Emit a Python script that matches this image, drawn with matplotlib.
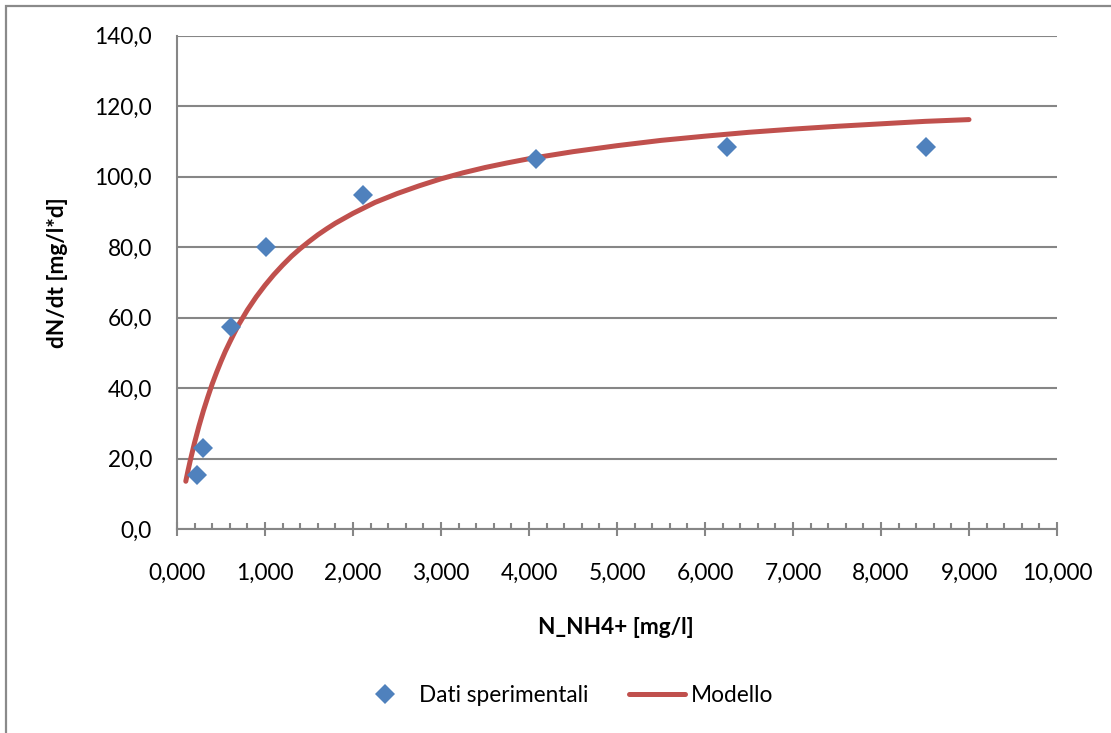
import matplotlib
matplotlib.use("Agg")
import matplotlib.pyplot as plt
from matplotlib.ticker import FuncFormatter, MultipleLocator
from matplotlib.lines import Line2D
from matplotlib.patches import Rectangle

# Experimental measurements
exp_n = [0.226, 0.30, 0.61, 1.01, 2.11, 4.08, 6.25, 8.51]
exp_rate = [15.5, 23.1, 57.5, 80.0, 94.7, 105.0, 108.3, 108.5]

# Model curve samples
model_n = [0.1, 0.125, 0.15, 0.175, 0.2, 0.25, 0.3, 0.35, 0.4, 0.45, 0.5, 0.55,
           0.6, 0.65, 0.7, 0.75, 0.8, 0.9, 1.0, 1.1, 1.2, 1.3, 1.4, 1.5, 1.6,
           1.7, 1.8, 2.0, 2.25, 2.5, 2.75, 3.0, 3.25, 3.5, 3.75, 4.0, 4.5, 5.0,
           5.5, 6.0, 6.5, 7.0, 7.5, 8.0, 8.5, 9.0]
model_rate = [13.6, 16.6, 19.4, 22.0, 24.6, 29.3, 33.6, 37.5, 41.2, 44.5, 47.6,
              50.5, 53.1, 55.6, 58.0, 60.1, 62.2, 65.9, 69.2, 72.2, 74.9, 77.4,
              79.6, 81.6, 83.5, 85.2, 86.8, 89.6, 92.7, 95.2, 97.4, 99.4, 101.1,
              102.6, 103.9, 105.1, 107.1, 108.8, 110.3, 111.5, 112.6, 113.5,
              114.3, 115.0, 115.7, 116.2]

series_labels = ["Dati sperimentali", "Modello"]
x_label = "N_NH4+ [mg/l]"
y_label = "dN/dt [mg/l*d]"

BLUE = "#4F81BD"
RED = "#C0504D"
GRAY = "#868686"
FONT = "Lato"
FS = 16.3

W, H = 1111, 733
fig = plt.figure(figsize=(W / 100, H / 100), dpi=100)
fig.patch.set_facecolor("white")

# outer chart frame
fig.patches.append(Rectangle((6 / W, -0.05), 1.2, 1.05 - 6 / H, transform=fig.transFigure,
                             fill=False, edgecolor="#8a8a8a", linewidth=1.6))

ax = fig.add_axes([177 / W, 1 - 529.2 / H, 880 / W, (529.2 - 35.7) / H])

ax.plot(model_n, model_rate, color=RED, linewidth=3.6, solid_capstyle="round",
        solid_joinstyle="round", zorder=3, label=series_labels[1])
ax.plot(exp_n, exp_rate, linestyle="none", marker="D", markersize=10.2,
        color=BLUE, markeredgewidth=0, zorder=4, label=series_labels[0])

ax.set_xlim(0, 10)
ax.set_ylim(0, 140)
ax.xaxis.set_major_locator(MultipleLocator(1))
ax.xaxis.set_minor_locator(MultipleLocator(0.2))
ax.yaxis.set_major_locator(MultipleLocator(20))
ax.xaxis.set_major_formatter(FuncFormatter(lambda v, p: f"{v:.3f}".replace(".", ",")))
ax.yaxis.set_major_formatter(FuncFormatter(lambda v, p: f"{v:.1f}".replace(".", ",")))

ax.grid(axis="y", color=GRAY, linewidth=1.5, zorder=0)
ax.set_axisbelow(True)
for s in ["top", "right"]:
    ax.spines[s].set_visible(False)
for s in ["left", "bottom"]:
    ax.spines[s].set_color(GRAY)
    ax.spines[s].set_linewidth(1.5)

ax.tick_params(axis="x", which="major", direction="inout", length=10, width=1.5,
               color=GRAY, pad=19)
ax.tick_params(axis="x", which="minor", direction="in", length=4.3, width=1.5, color=GRAY)
ax.tick_params(axis="y", which="major", length=0, pad=18)
for lab in ax.get_xticklabels() + ax.get_yticklabels():
    lab.set_fontfamily(FONT)
    lab.set_fontsize(FS)
    lab.set_color("black")

fig.text(616 / W, 1 - 628 / H, x_label, ha="center", va="center",
         fontfamily=FONT, fontsize=FS, fontweight="bold")
fig.text(57 / W, 1 - 273 / H, y_label, ha="center", va="center", rotation=90,
         fontfamily=FONT, fontsize=FS, fontweight="bold")

handles = [Line2D([], [], linestyle="none", marker="D", markersize=10.2, color=BLUE,
                  markeredgewidth=0),
           Line2D([], [], color=RED, linewidth=3.6, solid_capstyle="round")]
fig.legend(handles, series_labels, loc="center", bbox_to_anchor=(565 / W, 1 - 695 / H),
           ncol=2, frameon=False, prop={"family": FONT, "size": FS},
           handlelength=2.5, handletextpad=0.25, columnspacing=1.8)

fig.savefig("out.png", dpi=100)
